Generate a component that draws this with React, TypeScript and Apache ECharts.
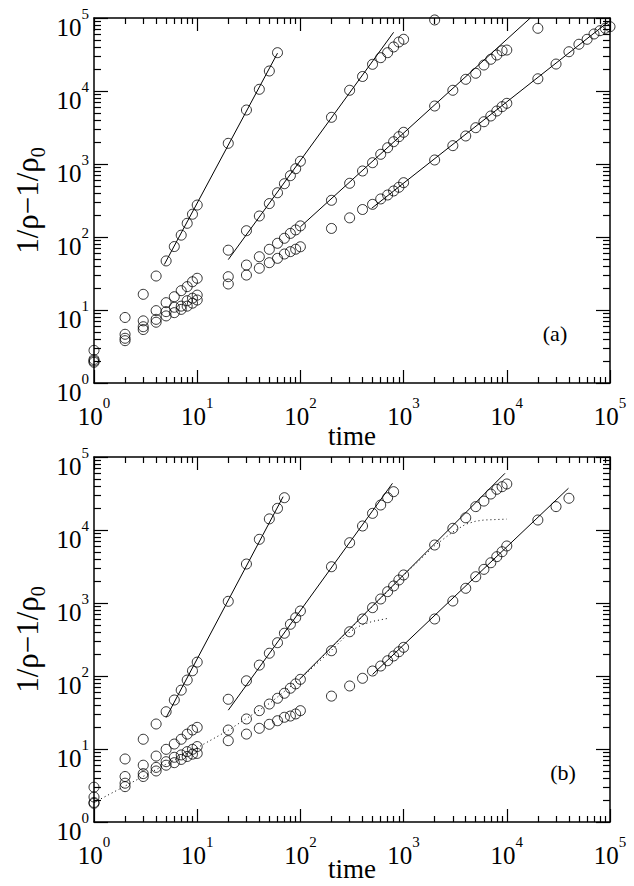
import React, { useEffect, useRef } from "react";
import * as echarts from "echarts";

// ---------- data ----------
// panel (a)
const A1_T = [1, 2, 3, 4, 5, 6, 7, 8, 9, 10, 20, 30, 40, 50, 60];
const A1_V = [2.8, 7.9, 16.4, 29.2, 47, 74, 106, 154, 205, 274, 1920, 5490, 10550, 18800, 33500];

const A2_T = [1, 2, 3, 4, 5, 6, 7, 8, 9, 10, 20, 30, 40, 50, 60, 70, 80, 90, 100, 200, 300, 400, 500, 600, 700, 800, 900, 1000, 2000];
const A2_V = [2.1, 4.65, 7.1, 9.8, 12.6, 15.2, 18.4, 20.9, 24.4, 27.2, 66, 122, 194, 287, 404, 537, 692, 862, 1089, 4360, 10230, 15800, 23200, 28600, 33500, 40100, 46900, 51100, 94000];

const A3_T = [1, 2, 3, 4, 5, 6, 7, 8, 9, 10, 20, 30, 40, 50, 60, 70, 80, 90, 100, 200, 300, 400, 500, 600, 700, 800, 900, 1000, 2000, 3000, 4000, 5000, 6000, 7000, 8000, 9000, 10000, 20000];
const A3_V = [2.0, 4.1, 5.9, 7.45, 9.5, 10.9, 11.3, 13.4, 14.5, 16.0, 28.6, 41.3, 53.7, 67.8, 82, 96, 112, 125, 142, 318, 544, 802, 1042, 1358, 1672, 2021, 2367, 2718, 6230, 10230, 14460, 17500, 22700, 27200, 31100, 35600, 36400, 72300];

const A4_T = [1, 2, 3, 4, 5, 6, 7, 8, 9, 10, 20, 30, 40, 50, 60, 70, 80, 90, 100, 200, 300, 400, 500, 600, 700, 800, 900, 1000, 2000, 3000, 4000, 5000, 6000, 7000, 8000, 9000, 10000, 20000, 30000, 40000, 50000, 60000, 70000, 80000, 90000, 100000];
const A4_V = [1.92, 3.8, 5.4, 6.8, 8.3, 9.2, 10.2, 11.3, 12.4, 13.7, 22.7, 30.1, 37.3, 44.5, 51, 58.5, 63, 68, 73.5, 131, 183, 238, 280, 332, 376, 427, 480, 555, 1135, 1783, 2420, 3142, 3793, 4545, 5321, 6100, 6780, 14700, 23400, 34500, 43700, 51100, 60400, 67000, 72300, 76000];

const A_FITS = [
  [[4.8, 42], [60, 33000]],
  [[20, 49], [800, 63700]],
  [[100, 138], [16900, 100000]],
  [[490, 247], [94000, 86000]],
];

// panel (b)
const B1_T = [1, 2, 3, 4, 5, 6, 7, 8, 9, 10, 20, 30, 40, 50, 60, 70];
const B1_V = [3.0, 7.3, 13.6, 22, 32.4, 46.9, 64, 88, 118, 155, 1055, 3420, 7450, 14200, 19800, 27700];

const B2_T = [1, 2, 3, 4, 5, 6, 7, 8, 9, 10, 20, 30, 40, 50, 60, 70, 80, 90, 100, 200, 300, 400, 500, 600, 700, 800];
const B2_V = [2.2, 4.2, 6.0, 8.0, 9.9, 11.7, 13.6, 16.0, 18.2, 19.8, 48, 86, 141, 205, 286, 385, 511, 629, 777, 3140, 6700, 11350, 16900, 22000, 27700, 33500];

const B3_T = [1, 2, 3, 4, 5, 6, 7, 8, 9, 10, 20, 30, 40, 50, 60, 70, 80, 90, 100, 200, 300, 400, 500, 600, 700, 800, 900, 1000, 2000, 3000, 4000, 5000, 6000, 7000, 8000, 9000, 10000];
const B3_V = [1.85, 3.4, 4.6, 5.6, 6.7, 7.7, 8.3, 9.2, 9.9, 10.8, 18.2, 25.8, 33.5, 41.3, 49.5, 58, 68, 78, 90, 222, 404, 604, 863, 1135, 1430, 1710, 2065, 2420, 6230, 10550, 14700, 20900, 24900, 31100, 36100, 39200, 42700];

const B4_T = [1, 2, 3, 4, 5, 6, 7, 8, 9, 10, 20, 30, 40, 50, 60, 70, 80, 90, 100, 200, 300, 400, 500, 600, 700, 800, 900, 1000, 2000, 3000, 4000, 5000, 6000, 7000, 8000, 9000, 10000, 20000, 30000, 40000];
const B4_V = [1.8, 3.05, 4.2, 5.0, 6.0, 6.5, 7.2, 7.9, 8.5, 8.7, 13.0, 16.0, 19.2, 21.8, 24.4, 27.2, 28.3, 30.2, 33.5, 53, 73, 93, 117, 137, 162, 188, 215, 247, 604, 1065, 1590, 2290, 2890, 3560, 4310, 5040, 6040, 13700, 20900, 27200];

const B_FITS = [
  [[5, 27], [68, 28600]],
  [[20, 34], [780, 43600]],
  [[100, 93], [9600, 59800]],
  [[500, 105], [39600, 37300]],
];

const B_DOTTED = [
  [[1, 1.85], [10, 10.4], [20, 18], [50, 42], [100, 92], [200, 225], [300, 400], [350, 460], [400, 505], [500, 560], [700, 615]],
  [[100, 92], [1000, 2400], [2000, 6100], [3000, 9400], [4000, 12000], [5000, 13200], [6000, 13700], [10000, 14100]],
];

const AXIS_MIN = 1;
const AXIS_MAX = 100000;
const PANEL_LABELS = ["(a)", "(b)"];

// ---------- styling ----------
const FONT = "Liberation Serif, Times New Roman, serif";
const BLACK = "#000";

const zip = (t: number[], v: number[]) => t.map((x, i) => [x, v[i]]);

const supLabel = (v: number) => `{b|10}{s|${Math.round(Math.log10(v))}}`;
const labelRich = {
  b: { fontSize: 25, lineHeight: 34, verticalAlign: "bottom", fontFamily: FONT, color: BLACK },
  s: { fontSize: 15, lineHeight: 15, verticalAlign: "top", fontFamily: FONT, color: BLACK },
};

function makeAxis(gridIndex: number, position: string, showLabel: boolean, isY: boolean) {
  return {
    type: "log",
    logBase: 10,
    min: AXIS_MIN,
    max: AXIS_MAX,
    gridIndex,
    position,
    axisLine: { show: true, onZero: false, lineStyle: { color: BLACK, width: 1.5 } },
    axisTick: { show: true, inside: true, length: isY ? 14 : 13, lineStyle: { color: BLACK, width: 1.2 } },
    minorTick: { show: true, splitNumber: 9, length: isY ? 7 : 6, lineStyle: { color: BLACK, width: 1.2 } },
    splitLine: { show: false },
    minorSplitLine: { show: false },
    axisLabel: {
      show: showLabel,
      formatter: supLabel,
      rich: labelRich,
      margin: isY ? 5 : 12,
      showMinLabel: true,
      showMaxLabel: true,
      padding: isY ? [10, 0, 0, 0] : 0,
    },
  };
}

function scatter(t: number[], v: number[], axis: number) {
  return {
    type: "scatter",
    xAxisIndex: axis,
    yAxisIndex: axis,
    data: zip(t, v),
    symbol: "circle",
    symbolSize: 10,
    clip: false,
    silent: true,
    itemStyle: { color: "rgba(0,0,0,0)", borderColor: BLACK, borderWidth: 1 },
    z: 3,
  };
}

function line(points: number[][], axis: number, dotted: boolean) {
  return {
    type: "line",
    xAxisIndex: axis,
    yAxisIndex: axis,
    data: points,
    showSymbol: false,
    symbol: "none",
    clip: true,
    silent: true,
    lineStyle: { color: BLACK, width: 1, type: dotted ? [1, 3] : "solid" },
    z: 2,
  };
}

const PANEL_TOPS = [18, 457];
const TIME_Y = [436, 869];
const PANEL_LEFT = 94;
const PANEL_W = 516;
const PANEL_H = 365;

function buildOption() {
  const grid = PANEL_TOPS.map((top) => ({ left: PANEL_LEFT, top, width: PANEL_W, height: PANEL_H, containLabel: false }));
  const xAxis = [
    makeAxis(0, "bottom", true, false),
    makeAxis(0, "top", false, false),
    makeAxis(1, "bottom", true, false),
    makeAxis(1, "top", false, false),
  ];
  const yAxis = [
    makeAxis(0, "left", true, true),
    makeAxis(0, "right", false, true),
    makeAxis(1, "left", true, true),
    makeAxis(1, "right", false, true),
  ];
  const series: any[] = [
    scatter(A1_T, A1_V, 0),
    scatter(A2_T, A2_V, 0),
    scatter(A3_T, A3_V, 0),
    scatter(A4_T, A4_V, 0),
    ...A_FITS.map((f) => line(f, 0, false)),
    scatter(B1_T, B1_V, 2),
    scatter(B2_T, B2_V, 2),
    scatter(B3_T, B3_V, 2),
    scatter(B4_T, B4_V, 2),
    ...B_FITS.map((f) => line(f, 2, false)),
    ...B_DOTTED.map((f) => line(f, 2, true)),
  ];

  const graphic: any[] = [];
  PANEL_TOPS.forEach((top, i) => {
    const cy = top + PANEL_H / 2;
    graphic.push({
      type: "text",
      x: 30,
      y: cy,
      rotation: Math.PI / 2,
      silent: true,
      style: {
        text: "{m|1/ρ−1/ρ}{sub|0}",
        align: "center",
        verticalAlign: "middle",
        fill: BLACK,
        rich: {
          m: { fontSize: 31, lineHeight: 36, verticalAlign: "top", fontFamily: FONT, fill: BLACK },
          sub: { fontSize: 20, lineHeight: 20, verticalAlign: "bottom", fontFamily: FONT, fill: BLACK },
        },
      },
    });
    graphic.push({
      type: "text",
      x: PANEL_LEFT + PANEL_W / 2,
      y: TIME_Y[i],
      silent: true,
      style: { text: "time", align: "center", verticalAlign: "middle", fontSize: 27, lineHeight: 22, fontFamily: FONT, fill: BLACK },
    });
    graphic.push({
      type: "text",
      x: i === 0 ? 555 : 563,
      y: top + PANEL_H - 50,
      silent: true,
      style: { text: PANEL_LABELS[i], align: "center", verticalAlign: "middle", fontSize: 22, fontFamily: FONT, fill: BLACK },
    });
  });

  return {
    animation: false,
    backgroundColor: "#fff",
    grid,
    xAxis,
    yAxis,
    series,
    graphic,
  };
}

export default function App() {
  const ref = useRef<HTMLDivElement>(null);
  useEffect(() => {
    document.body.style.margin = "0";
    const chart = echarts.init(ref.current!, null, { renderer: "svg" });
    chart.setOption(buildOption() as any);
    return () => chart.dispose();
  }, []);
  return <div ref={ref} style={{ width: 634, height: 886 }} />;
}
